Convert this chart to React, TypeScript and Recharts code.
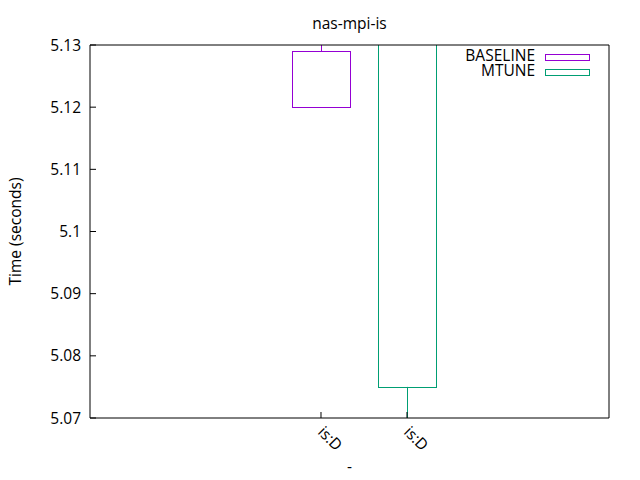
import React from 'react';
import { ComposedChart, Bar, XAxis, YAxis, Label } from 'recharts';

// one candlestick per series, each at its own x slot
const categories = ['is:D', 'is:D'];
const positions = [1, 2];
const seriesNames = ['BASELINE', 'MTUNE'];
const boxLow = [5.12, 5.075];
const boxHigh = [5.129, 5.14];
const whiskerLow = [5.12, 5.066];
const whiskerHigh = [5.135, 5.145];
const yTicks = [5.07, 5.08, 5.09, 5.1, 5.11, 5.12, 5.13];
const colors = ['#9400d3', '#009e73'];

const FONT = '"Open Sans", sans-serif';
const FS = 15.5;
const X_DOMAIN = [-1.686, 4.349];
const Y_DOMAIN = [5.07, 5.13];

const data = positions.map((x, i) => ({
  x,
  [seriesNames[i]]: [boxLow[i], boxHigh[i]],
  lo: whiskerLow[i],
  hi: whiskerHigh[i],
}));

const makeCandle = (name: string, color: string) => (props: any) => {
  const { x, y, width, height, payload } = props;
  if (!payload || !payload[name]) return null;
  const [bLo, bHi] = payload[name];
  const top = Math.min(y, y + height);
  const bottom = Math.max(y, y + height);
  const ppu = (bottom - top) / (bHi - bLo);
  const cx = Math.round(x + width / 2) + 0.5;
  const yHi = top - (payload.hi - bHi) * ppu;
  const yLo = bottom + (bLo - payload.lo) * ppu;
  return (
    <g>
      <line x1={cx} x2={cx} y1={top} y2={yHi} stroke={color} strokeWidth={1} />
      <line x1={cx} x2={cx} y1={bottom} y2={yLo} stroke={color} strokeWidth={1} />
      <rect
        x={Math.round(x) + 0.5}
        y={Math.round(top) + 0.5}
        width={Math.round(width)}
        height={Math.round(bottom - top)}
        fill="none"
        stroke={color}
        strokeWidth={1}
      />
    </g>
  );
};

const XTick = (props: any) => {
  const { x, y, payload } = props;
  const idx = positions.indexOf(payload.value);
  const tx = x - 4;
  return (
    <text
      x={tx}
      y={y}
      transform={`rotate(45 ${tx} ${y})`}
      textAnchor="start"
      fontSize={FS}
      fontFamily={FONT}
      fill="#000"
    >
      {categories[idx]}
    </text>
  );
};

// gnuplot style key: label then sample box, top right inside the plot
const KeyBox = () => (
  <div style={{ position: 'absolute', left: 0, top: 0, fontFamily: FONT, fontSize: FS, color: '#000' }}>
    {seriesNames.map((n, i) => (
      <React.Fragment key={n}>
        <span
          style={{
            position: 'absolute',
            right: -535,
            top: 47.5 + i * 15.3,
            lineHeight: '15px',
            whiteSpace: 'nowrap',
          }}
        >
          {n}
        </span>
        <span
          style={{
            position: 'absolute',
            left: 545,
            top: 54 + i * 15,
            width: 45,
            height: 7,
            boxSizing: 'border-box',
            border: `1px solid ${colors[i]}`,
          }}
        />
      </React.Fragment>
    ))}
  </div>
);

export default function App() {
  return (
    <div style={{ position: 'absolute', left: 0, top: 0, width: 640, height: 480, background: '#fff' }}>
      <ComposedChart
        width={640}
        height={480}
        data={data}
        margin={{ top: 44, right: 30, bottom: 22, left: 0 }}
        barGap={-58}
        style={{ fontFamily: FONT }}
      >
        <XAxis
          dataKey="x"
          type="number"
          domain={X_DOMAIN}
          allowDataOverflow
          ticks={positions}
          height={40}
          tickSize={-6}
          tickMargin={21}
          tick={<XTick />}
          axisLine={{ stroke: '#000' }}
          tickLine={{ stroke: '#000' }}
          interval={0}
        >
          <Label value="-" position="center" dy={28} fill="#000" fontSize={FS} />
        </XAxis>
        <XAxis
          xAxisId="t"
          orientation="top"
          type="number"
          domain={X_DOMAIN}
          allowDataOverflow
          ticks={positions}
          height={1}
          tickSize={-6}
          tick={false}
          axisLine={{ stroke: '#000' }}
          tickLine={{ stroke: '#000' }}
        >
          <Label value="nas-mpi-is" position="center" dy={-21} fill="#000" fontSize={FS} />
        </XAxis>
        <YAxis
          type="number"
          domain={Y_DOMAIN}
          allowDataOverflow
          ticks={yTicks}
          width={90}
          tickSize={-6}
          tickMargin={15}
          interval={0}
          tick={{ fill: '#000', fontSize: FS }}
          axisLine={{ stroke: '#000' }}
          tickLine={{ stroke: '#000' }}
        >
          <Label value="Time (seconds)" position="center" angle={-90} dx={-30} fill="#000" fontSize={FS} />
        </YAxis>
        <YAxis
          yAxisId="r"
          orientation="right"
          type="number"
          domain={Y_DOMAIN}
          allowDataOverflow
          ticks={yTicks}
          width={1}
          tickSize={-6}
          tick={false}
          interval={0}
          axisLine={{ stroke: '#000' }}
          tickLine={{ stroke: '#000' }}
        />
        {seriesNames.map((n, i) => (
          <Bar
            key={n}
            dataKey={n}
            name={n}
            barSize={58}
            fill="none"
            stroke={colors[i]}
            shape={makeCandle(n, colors[i])}
            isAnimationActive={false}
          />
        ))}
      </ComposedChart>
      <KeyBox />
    </div>
  );
}
